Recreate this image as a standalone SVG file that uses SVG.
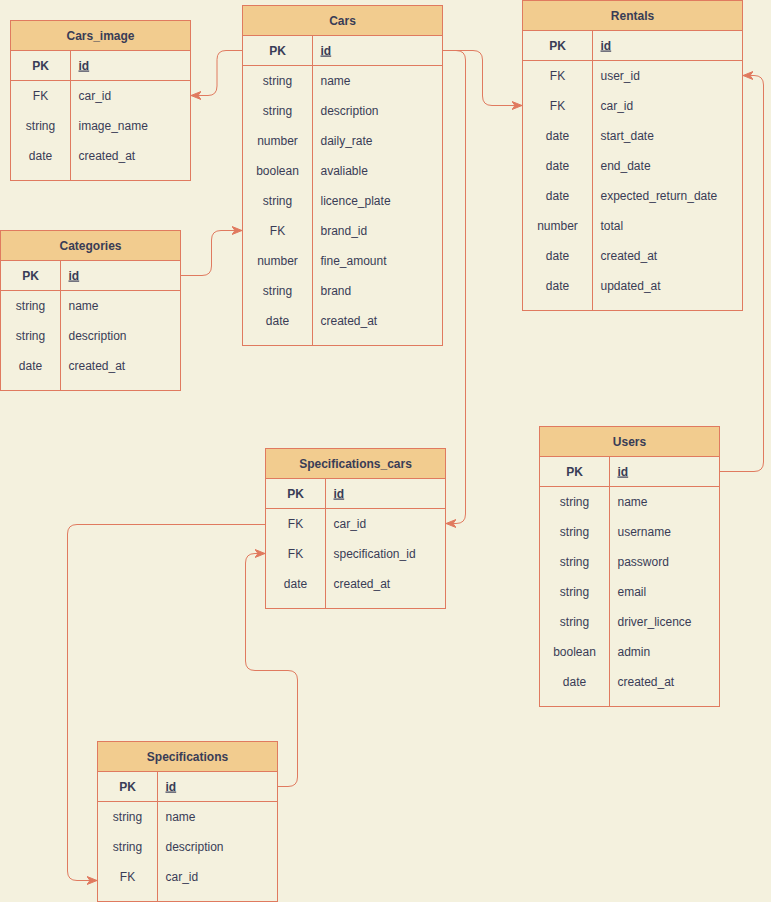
<svg xmlns="http://www.w3.org/2000/svg" width="771" height="902" viewBox="0 0 771 902">
<style>
text{font-family:"Liberation Sans",Arial,sans-serif;font-size:12px;fill:#393C56}
.hd{fill:#F2CC8F;stroke:#E07A5F;stroke-width:1}
.bd{fill:#F4F1DE;stroke:#E07A5F;stroke-width:1}
.ln{stroke:#E07A5F;stroke-width:1;fill:none}
.h{font-weight:bold;text-anchor:middle}
.k{text-anchor:middle}
.kb{text-anchor:middle;font-weight:bold}
.pk{font-weight:bold;text-decoration:underline}
.c{fill:none;stroke:#E07A5F;stroke-width:1;marker-end:url(#arr)}
</style>
<defs>
<marker id="arr" markerUnits="userSpaceOnUse" markerWidth="11" markerHeight="9" refX="10" refY="4.5" orient="auto">
<path d="M0,0.5 L10,4.5 L0,8.5 L3,4.5 Z" fill="#E07A5F" stroke="#E07A5F" stroke-width="1"/>
</marker>
</defs>
<rect x="0" y="0" width="771" height="902" fill="#F4F1DE"/>

<g id="connectors">
<path class="c" d="M242.5,50.5 H226 Q217,50.5 217,59.5 V86 Q217,95.5 208,95.5 H191"/>
<path class="c" d="M442.5,50.5 H473 Q482.5,50.5 482.5,60 V96 Q482.5,105.5 492,105.5 H522"/>
<path class="c" d="M442.5,50.5 H456 Q465.5,50.5 465.5,60 V514 Q465.5,523.5 456,523.5 H446"/>
<path class="c" d="M719.5,471.5 H754 Q763.5,471.5 763.5,462 V85 Q763.5,75.5 754,75.5 H743"/>
<path class="c" d="M180.5,275.5 H202 Q211.5,275.5 211.5,266 V240 Q211.5,230.5 221,230.5 H242"/>
<path class="c" d="M265.5,524.5 H77 Q67.5,524.5 67.5,534 V871 Q67.5,880.5 77,880.5 H97"/>
<path class="c" d="M277.5,786.5 H288 Q297.5,786.5 297.5,777 V680 Q297.5,670.5 288,670.5 H255 Q245.5,670.5 245.5,661 V563 Q245.5,553.5 255,553.5 H265"/>
</g>

<g id="cars_image">
<rect class="bd" x="10.5" y="20.5" width="180" height="160"/>
<rect class="hd" x="10.5" y="20.5" width="180" height="30"/>
<path class="ln" d="M10.5,80.5 H190.5 M70.5,50.5 V180.5"/>
<text class="h" x="100.5" y="39.5">Cars_image</text>
<text class="kb" x="40.5" y="69.5">PK</text><text class="pk" x="78.5" y="69.5">id</text>
<text class="k" x="40.5" y="99.5">FK</text><text x="78.5" y="99.5">car_id</text>
<text class="k" x="40.5" y="129.5">string</text><text x="78.5" y="129.5">image_name</text>
<text class="k" x="40.5" y="159.5">date</text><text x="78.5" y="159.5">created_at</text>
</g>

<g id="cars">
<rect class="bd" x="242.5" y="5.5" width="200" height="340"/>
<rect class="hd" x="242.5" y="5.5" width="200" height="30"/>
<path class="ln" d="M242.5,65.5 H442.5 M312.5,35.5 V345.5"/>
<text class="h" x="342.5" y="24.5">Cars</text>
<text class="kb" x="277.5" y="54.5">PK</text><text class="pk" x="320.5" y="54.5">id</text>
<text class="k" x="277.5" y="84.5">string</text><text x="320.5" y="84.5">name</text>
<text class="k" x="277.5" y="114.5">string</text><text x="320.5" y="114.5">description</text>
<text class="k" x="277.5" y="144.5">number</text><text x="320.5" y="144.5">daily_rate</text>
<text class="k" x="277.5" y="174.5">boolean</text><text x="320.5" y="174.5">avaliable</text>
<text class="k" x="277.5" y="204.5">string</text><text x="320.5" y="204.5">licence_plate</text>
<text class="k" x="277.5" y="234.5">FK</text><text x="320.5" y="234.5">brand_id</text>
<text class="k" x="277.5" y="264.5">number</text><text x="320.5" y="264.5">fine_amount</text>
<text class="k" x="277.5" y="294.5">string</text><text x="320.5" y="294.5">brand</text>
<text class="k" x="277.5" y="324.5">date</text><text x="320.5" y="324.5">created_at</text>
</g>

<g id="rentals">
<rect class="bd" x="522.5" y="0.5" width="220" height="310"/>
<rect class="hd" x="522.5" y="0.5" width="220" height="30"/>
<path class="ln" d="M522.5,60.5 H742.5 M592.5,30.5 V310.5"/>
<text class="h" x="632.5" y="19.5">Rentals</text>
<text class="kb" x="557.5" y="49.5">PK</text><text class="pk" x="600.5" y="49.5">id</text>
<text class="k" x="557.5" y="79.5">FK</text><text x="600.5" y="79.5">user_id</text>
<text class="k" x="557.5" y="109.5">FK</text><text x="600.5" y="109.5">car_id</text>
<text class="k" x="557.5" y="139.5">date</text><text x="600.5" y="139.5">start_date</text>
<text class="k" x="557.5" y="169.5">date</text><text x="600.5" y="169.5">end_date</text>
<text class="k" x="557.5" y="199.5">date</text><text x="600.5" y="199.5">expected_return_date</text>
<text class="k" x="557.5" y="229.5">number</text><text x="600.5" y="229.5">total</text>
<text class="k" x="557.5" y="259.5">date</text><text x="600.5" y="259.5">created_at</text>
<text class="k" x="557.5" y="289.5">date</text><text x="600.5" y="289.5">updated_at</text>
</g>

<g id="categories">
<rect class="bd" x="0.5" y="230.5" width="180" height="160"/>
<rect class="hd" x="0.5" y="230.5" width="180" height="30"/>
<path class="ln" d="M0.5,290.5 H180.5 M60.5,260.5 V390.5"/>
<text class="h" x="90.5" y="249.5">Categories</text>
<text class="kb" x="30.5" y="279.5">PK</text><text class="pk" x="68.5" y="279.5">id</text>
<text class="k" x="30.5" y="309.5">string</text><text x="68.5" y="309.5">name</text>
<text class="k" x="30.5" y="339.5">string</text><text x="68.5" y="339.5">description</text>
<text class="k" x="30.5" y="369.5">date</text><text x="68.5" y="369.5">created_at</text>
</g>

<g id="specifications_cars">
<rect class="bd" x="265.5" y="448.5" width="180" height="160"/>
<rect class="hd" x="265.5" y="448.5" width="180" height="30"/>
<path class="ln" d="M265.5,508.5 H445.5 M325.5,478.5 V608.5"/>
<text class="h" x="355.5" y="467.5">Specifications_cars</text>
<text class="kb" x="295.5" y="497.5">PK</text><text class="pk" x="333.5" y="497.5">id</text>
<text class="k" x="295.5" y="527.5">FK</text><text x="333.5" y="527.5">car_id</text>
<text class="k" x="295.5" y="557.5">FK</text><text x="333.5" y="557.5">specification_id</text>
<text class="k" x="295.5" y="587.5">date</text><text x="333.5" y="587.5">created_at</text>
</g>

<g id="specifications">
<rect class="bd" x="97.5" y="741.5" width="180" height="160"/>
<rect class="hd" x="97.5" y="741.5" width="180" height="30"/>
<path class="ln" d="M97.5,801.5 H277.5 M157.5,771.5 V901.5"/>
<text class="h" x="187.5" y="760.5">Specifications</text>
<text class="kb" x="127.5" y="790.5">PK</text><text class="pk" x="165.5" y="790.5">id</text>
<text class="k" x="127.5" y="820.5">string</text><text x="165.5" y="820.5">name</text>
<text class="k" x="127.5" y="850.5">string</text><text x="165.5" y="850.5">description</text>
<text class="k" x="127.5" y="880.5">FK</text><text x="165.5" y="880.5">car_id</text>
</g>

<g id="users">
<rect class="bd" x="539.5" y="426.5" width="180" height="280"/>
<rect class="hd" x="539.5" y="426.5" width="180" height="30"/>
<path class="ln" d="M539.5,486.5 H719.5 M609.5,456.5 V706.5"/>
<text class="h" x="629.5" y="445.5">Users</text>
<text class="kb" x="574.5" y="475.5">PK</text><text class="pk" x="617.5" y="475.5">id</text>
<text class="k" x="574.5" y="505.5">string</text><text x="617.5" y="505.5">name</text>
<text class="k" x="574.5" y="535.5">string</text><text x="617.5" y="535.5">username</text>
<text class="k" x="574.5" y="565.5">string</text><text x="617.5" y="565.5">password</text>
<text class="k" x="574.5" y="595.5">string</text><text x="617.5" y="595.5">email</text>
<text class="k" x="574.5" y="625.5">string</text><text x="617.5" y="625.5">driver_licence</text>
<text class="k" x="574.5" y="655.5">boolean</text><text x="617.5" y="655.5">admin</text>
<text class="k" x="574.5" y="685.5">date</text><text x="617.5" y="685.5">created_at</text>
</g>
</svg>
